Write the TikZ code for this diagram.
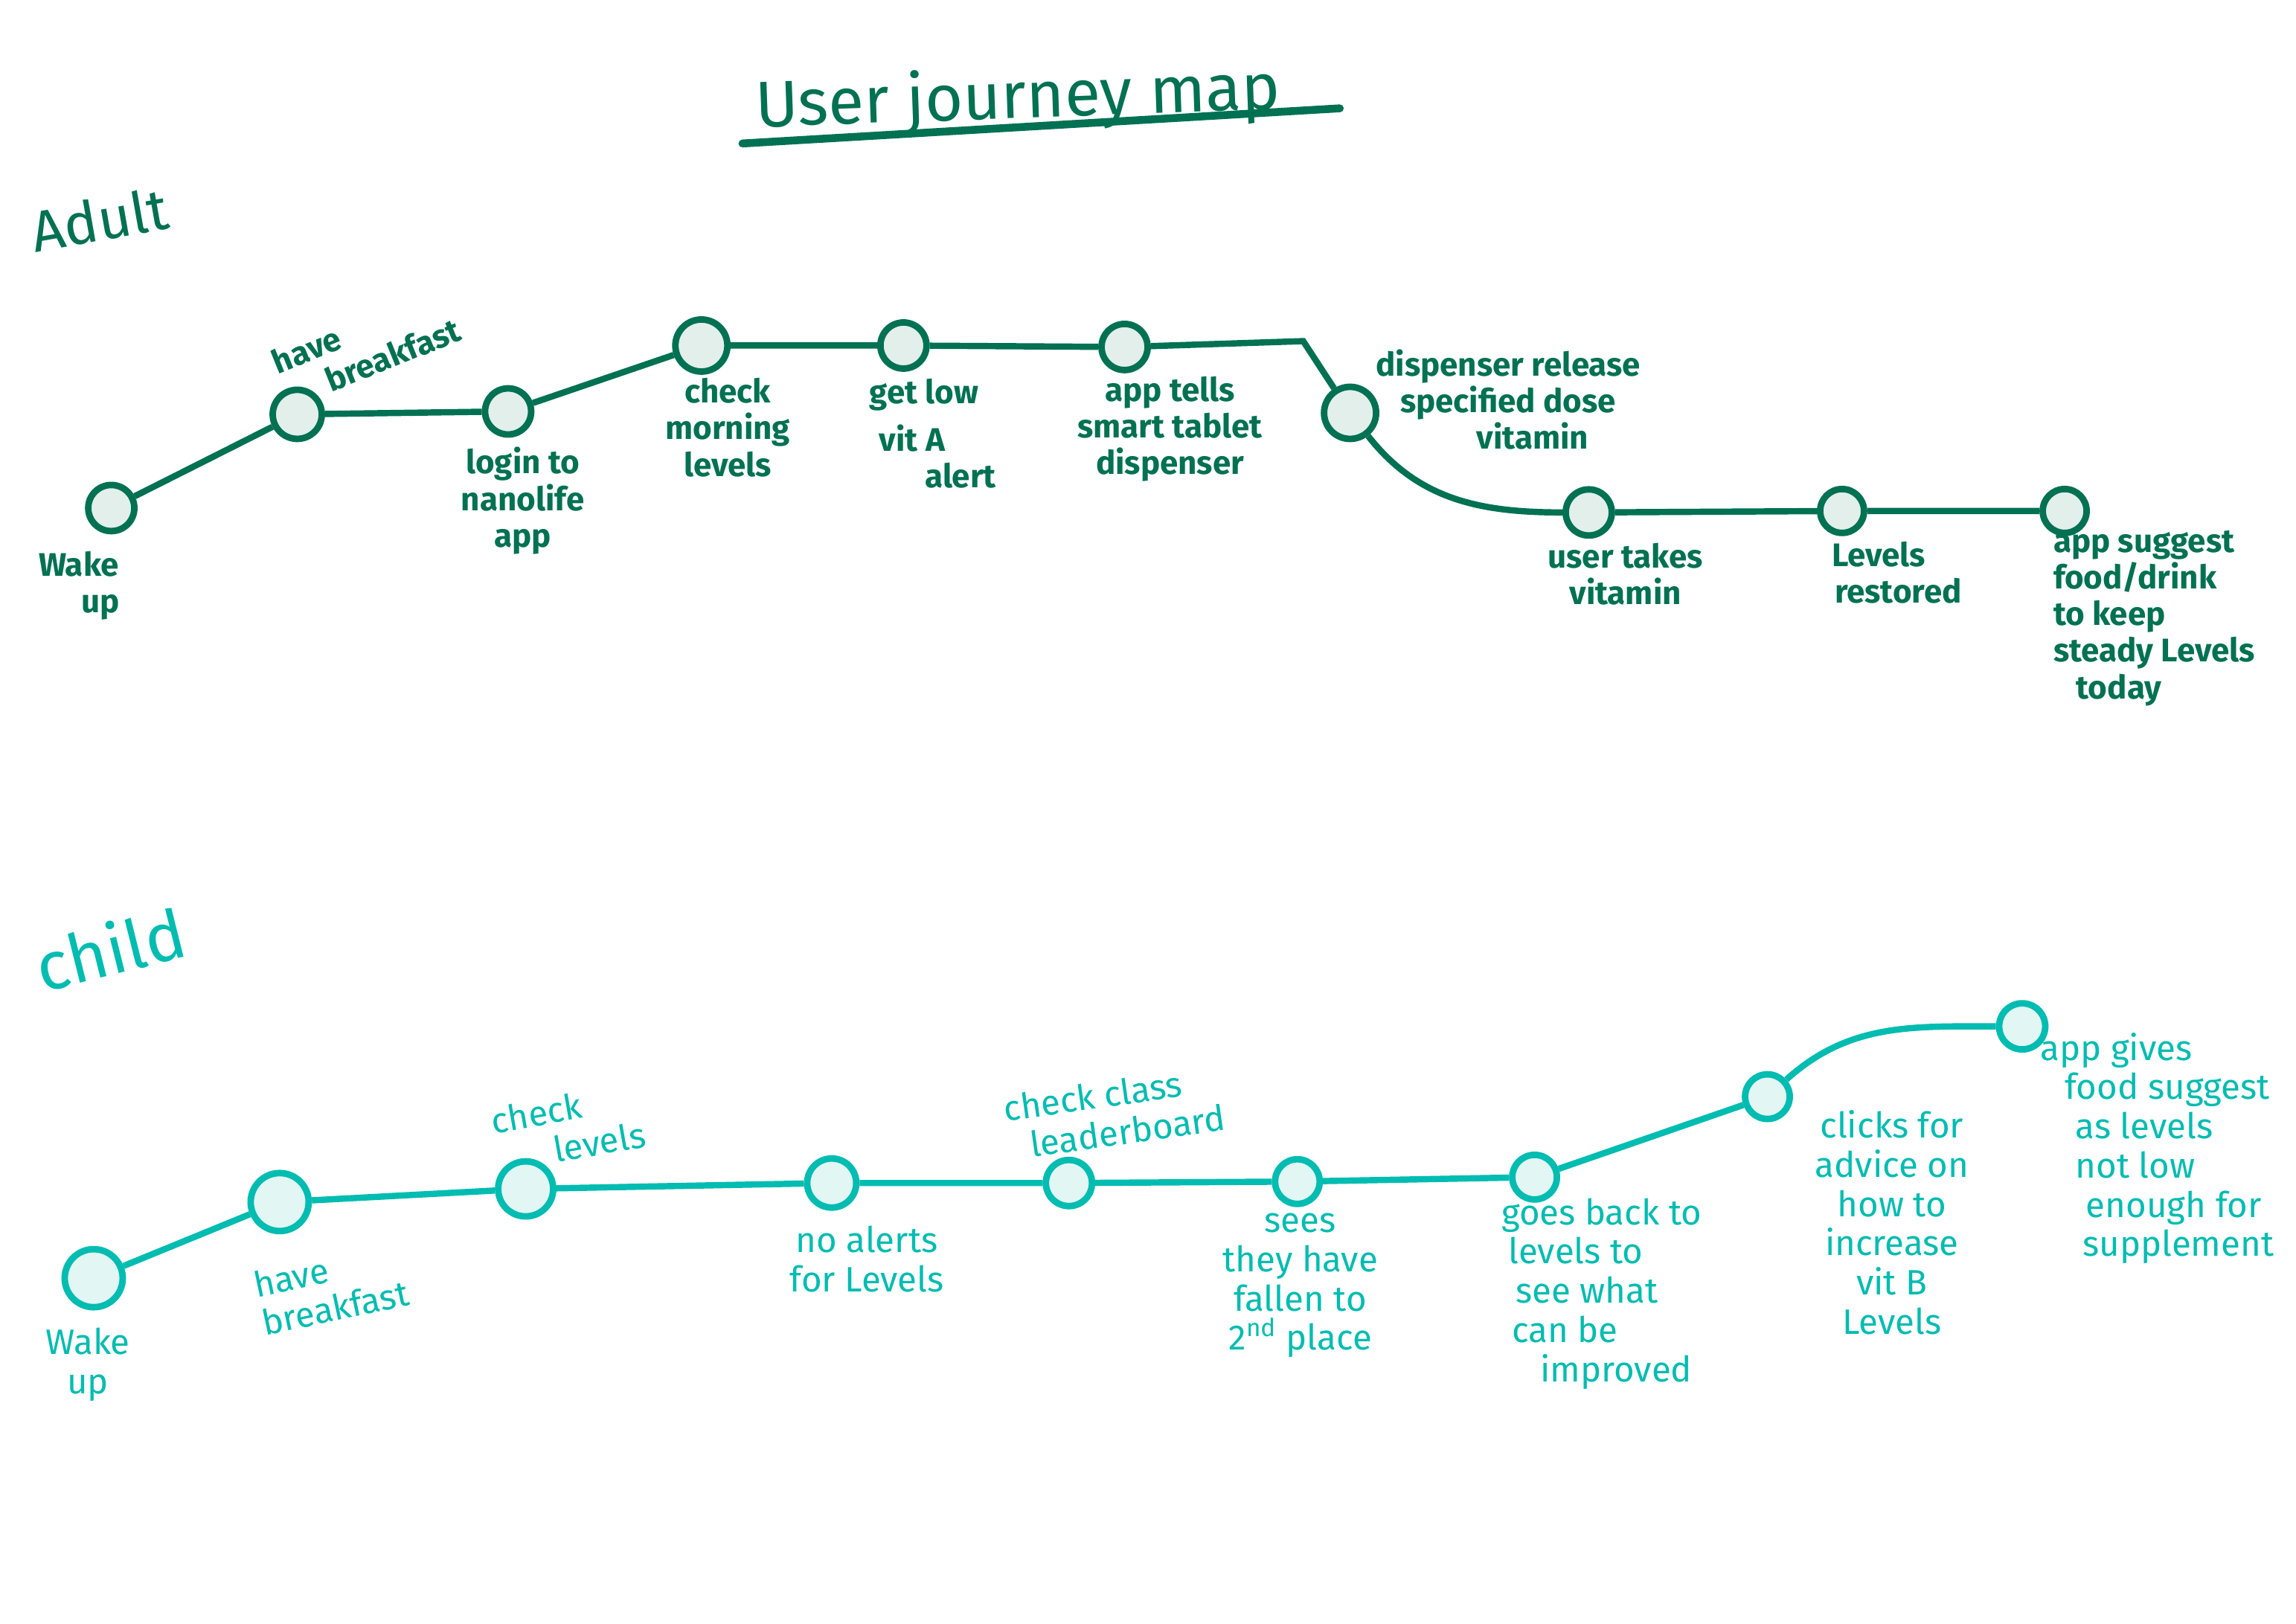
\documentclass[tikz,border=0pt]{standalone}
\usepackage{fontspec}
\setmainfont{Fira Sans}
\definecolor{adultgreen}{HTML}{007152}
\definecolor{adultfill}{HTML}{E2EFEB}
\definecolor{childteal}{HTML}{00BCB1}
\definecolor{childfill}{HTML}{E2F6F4}

\begin{document}
\begin{tikzpicture}[x=0.01968cm, y=-0.01968cm,
	astop/.style={draw=adultgreen, line width=2.5pt, circle, fill=adultfill, inner sep=0pt, minimum size=#1},
	astop/.default=0.62cm,
	cstop/.style={draw=childteal, line width=2.5pt, circle, fill=childfill, inner sep=0pt, minimum size=#1},
	cstop/.default=0.6cm,
	atext/.style={text=adultgreen, font=\fontsize{12.5}{14}\selectfont\bfseries, align=center, inner sep=0pt},
	ctext/.style={text=childteal, font=\fontsize{13.5}{15}\selectfont, align=center, inner sep=0pt},
	aline/.style={draw=adultgreen, line width=2.4pt},
	cline/.style={draw=childteal, line width=2.4pt}]
	\useasboundingbox (0,0) rectangle (1568,1109);

	% title and headings
	\node[text=adultgreen, font=\fontsize{25}{25}\selectfont, rotate=2] (title) at (695,68) {User journey map};
	\draw[aline, line width=3pt, line cap=round] (507,98) -- (915,74);
	\node[text=adultgreen, font=\fontsize{22}{22}\selectfont, rotate=10] (adult) at (68,150) {Adult};
	\node[text=childteal, font=\fontsize{26}{26}\selectfont, rotate=14] (child) at (75,648) {child};

	% adult journey
	\node[astop] (AW) at (76,347) {};
	\node[astop=0.66cm] (AB) at (203,283) {};
	\node[astop] (AL) at (347,281) {};
	\node[astop=0.7cm] (AC) at (479,236) {};
	\node[astop] (AV) at (617,236) {};
	\node[astop] (AT) at (768,237) {};
	\coordinate (bend) at (890,233);
	\node[astop=0.7cm] (AD) at (922,282) {};
	\node[astop] (AU) at (1085,350) {};
	\node[astop=0.59cm] (AR) at (1258,349) {};
	\node[astop=0.59cm] (AS) at (1410,349) {};

	\node[atext, align=left] (tAW) at (54,400) {Wake\\\hspace{1.3em}up};
	\node[atext, align=left, rotate=22] (tAB) at (250,236) {have\\\hspace{1.3em}breakfast};
	\node[atext] (tAL) at (357,342) {login to\\nanolife\\app};
	\node[atext] (tAC) at (497,292) {check\\morning\\levels};
	\node[atext, align=left] (tAV) at (637,296) {get low\\[0.15cm]\hspace{0.3em}vit A\\\hspace{1.7em}alert};
	\node[atext] (tAT) at (799,293) {app tells\\smart tablet\\dispenser};
	\node[atext] (tAD) at (1030,273) {dispenser release\\specified dose\\\hspace{1.5em}vitamin};
	\node[atext] (tAU) at (1110,392) {user takes\\vitamin};
	\node[atext] (tAR) at (1283,391) {Levels\\\hspace{1.2em}restored};
	\node[atext, align=left, anchor=north west] (tAS) at (1402,362) {app suggest\\food/drink\\to keep\\steady Levels\\\hspace{0.7em}today};

	\draw[aline] (AW) -- (AB) -- (AL) -- (AC) -- (AV) -- (AT) -- (bend) -- (AD);
	\draw[aline] (AD) to[out=-52, in=180] (AU);
	\draw[aline] (AU) -- (AR) -- (AS);

	% child journey
	\node[cstop=0.78cm] (CW) at (64,873) {};
	\node[cstop=0.78cm] (CB) at (191,821) {};
	\node[cstop=0.74cm] (CC) at (359,812) {};
	\node[cstop=0.66cm] (CN) at (568,808) {};
	\node[cstop=0.62cm] (CL) at (730,808) {};
	\node[cstop] (CS) at (886,807) {};
	\node[cstop] (CG) at (1048,804) {};
	\node[cstop] (CK) at (1207,749) {};
	\node[cstop=0.62cm] (CA) at (1381,701) {};

	\node[ctext] (tCW) at (60,932) {Wake\\up};
	\node[ctext, align=left, rotate=12] (tCB) at (226,880) {have\\breakfast};
	\node[ctext, align=left, rotate=10] (tCC) at (388,770) {check\\\hspace{1.6em}levels};
	\node[ctext] (tCN) at (592,860) {no alerts\\for Levels};
	\node[ctext, align=left, rotate=8] (tCL) at (761,760) {check class\\\hspace{0.6em}leaderboard};
	\node[ctext] (tCS) at (888,878) {sees\\they have\\fallen to\\2\textsuperscript{nd} place};
	\node[ctext, align=left, anchor=north west] (tCG) at (1025,818) {goes back to\\\hspace{0.2em}levels to\\\hspace{0.4em}see what\\\hspace{0.3em}can be\\\hspace{1.1em}improved};
	\node[ctext] (tCK) at (1292,835) {clicks for\\advice on\\how to\\increase\\vit B\\Levels};
	\node[ctext, align=left, anchor=north west] (tCA) at (1393,705) {app gives\\\hspace{0.7em}food suggest\\\hspace{1em}as levels\\\hspace{1em}not low\\\hspace{1.3em}enough for\\\hspace{1.2em}supplement};

	\draw[cline] (CW) -- (CB) -- (CC) -- (CN) -- (CL) -- (CS) -- (CG) -- (CK);
	\draw[cline] (CK) to[out=42, in=180] (CA);
\end{tikzpicture}
\end{document}
